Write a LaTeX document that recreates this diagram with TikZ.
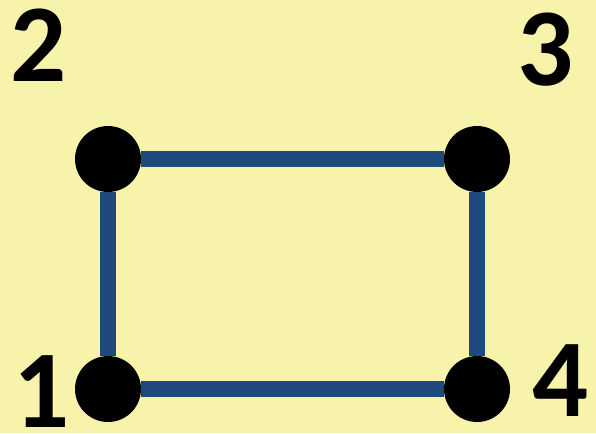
\documentclass[tikz,border=0pt]{standalone}
\usepackage{fontspec}
\setmainfont{Carlito}
\usepackage{xcolor}
\usepackage{tikz}
\usetikzlibrary{positioning}
\definecolor{boardYellow}{HTML}{F8F3AA}
\definecolor{edgeBlue}{HTML}{1F497D}
\tikzset{
  vertex/.style={circle, fill=black, minimum size=49.5pt, inner sep=0pt},
  edge line/.style={draw=edgeBlue, line width=12pt},
  vertex label/.style={font=\fontsize{83}{83}\selectfont\bfseries, inner sep=0pt}
}
\begin{document}
\begin{tikzpicture}[x=0.75pt, y=-0.75pt]
  \fill[boardYellow] (0,0) rectangle (596,433);
  \useasboundingbox (0,0) rectangle (596,433);
  \node[vertex] (v1) at (108,389) {};
  \node[vertex] (v2) at (108,159) {};
  \node[vertex] (v3) at (477,159) {};
  \node[vertex] (v4) at (477,389) {};
  \draw[edge line] (v1) -- (v2);
  \draw[edge line] (v2) -- (v3);
  \draw[edge line] (v3) -- (v4);
  \draw[edge line] (v4) -- (v1);
  \node[vertex label] (l1) at (42,392) {1};
  \node[vertex label] (l2) at (39,45) {2};
  \node[vertex label] (l3) at (546,50) {3};
  \node[vertex label] (l4) at (561,381) {4};
\end{tikzpicture}
\end{document}
